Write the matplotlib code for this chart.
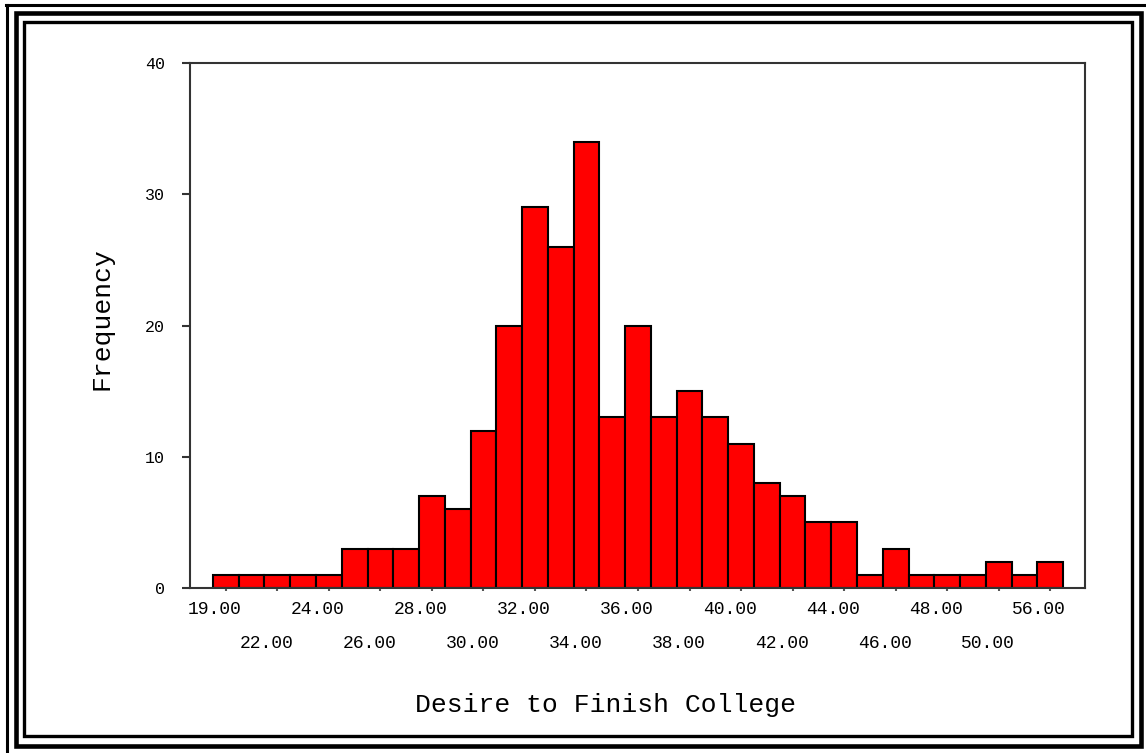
import matplotlib
matplotlib.use("Agg")
import matplotlib.pyplot as plt
import matplotlib.transforms as mtransforms
from matplotlib.patches import Rectangle
from matplotlib.lines import Line2D
import numpy as np

plt.rcParams['font.family'] = ['Liberation Mono', 'DejaVu Sans Mono']

# one bar per observed score
scores = [19, 21, 22, 23, 24, 25, 26, 27, 28, 29, 30, 31, 32, 33, 34, 35, 36,
          37, 38, 39, 40, 41, 42, 43, 44, 45, 46, 47, 48, 49, 50, 53, 56]
counts = [1, 1, 1, 1, 1, 3, 3, 3, 7, 6, 12, 20, 29, 26, 34, 13, 20,
          13, 15, 13, 11, 8, 7, 5, 5, 1, 3, 1, 1, 1, 2, 1, 2]
yticks = [0, 10, 20, 30, 40]

W, H = 1146, 753
fig = plt.figure(figsize=(W / 100, H / 100), dpi=100)
ax = fig.add_axes([190 / W, 1 - 588 / H, 895 / W, 525 / H])

pos = np.arange(len(scores))
ax.bar(pos, counts, width=1.0, color='#ff0000', edgecolor='black', linewidth=1.5, zorder=2)

ax.set_xlim(-1.39, len(scores) - 1 + 1.35)
ax.set_ylim(0, 40)
ax.set_yticks(yticks)
ax.set_yticklabels([str(v) for v in yticks])

# labels on every other bar, in two staggered rows
lab = ['%.2f' % s for s in scores]
major = pos[0::4]
minor = pos[2::4]
ax.set_xticks(major)
ax.set_xticklabels([lab[i] for i in major])
ax.set_xticks(minor, minor=True)
ax.set_xticklabels([lab[i] for i in minor], minor=True)

for s in ax.spines.values():
    s.set_color('#333333')
    s.set_linewidth(1.5)

ax.tick_params(axis='y', direction='out', length=6, width=1.5, color='#333333',
               pad=12, labelsize=12)
ax.tick_params(axis='x', which='both', direction='out', length=2.5, width=1.5,
               color='#555555', labelsize=13)
ax.tick_params(axis='x', which='major', pad=7)
ax.tick_params(axis='x', which='minor', pad=31.5)

shift = mtransforms.ScaledTranslation(-0.11, 0, fig.dpi_scale_trans)
for t in ax.get_xticklabels(which='both'):
    t.set_transform(t.get_transform() + shift)

fig.text(606 / W, 1 - 705 / H, 'Desire to Finish College', ha='center', va='center', fontsize=19)
fig.text(101 / W, 1 - 319 / H, 'Frequency', ha='center', va='center', rotation=90, fontsize=19)


# frame around the picture, in pixel units
def fx(x):
    return x / W


def fy(y):
    return 1 - y / H


# outer thin line only on top and left
fig.add_artist(Line2D([fx(6), fx(W)], [fy(5), fy(5)], color='black', lw=2.2, transform=fig.transFigure))
fig.add_artist(Line2D([fx(7), fx(7)], [fy(5), fy(H)], color='black', lw=2.2, transform=fig.transFigure))
# thick middle frame
fig.add_artist(Rectangle((fx(16), fy(745.5)), fx(1140.5) - fx(16), fy(12.8) - fy(745.5),
                         fill=False, edgecolor='black', lw=3.3, transform=fig.transFigure))
# inner frame
fig.add_artist(Rectangle((fx(24.3), fy(735.5)), fx(1131.5) - fx(24.3), fy(22) - fy(735.5),
                         fill=False, edgecolor='black', lw=2.4, transform=fig.transFigure))

fig.savefig('out.png', dpi=100)
